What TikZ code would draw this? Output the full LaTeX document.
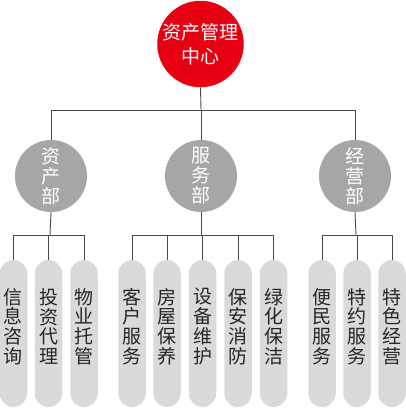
\documentclass[tikz,border=0pt]{standalone}
\usepackage{fontspec}
\setmainfont{Noto Sans CJK SC}
\definecolor{topred}{HTML}{E60012}
\definecolor{midgray}{HTML}{A6A6A6}
\definecolor{pillgray}{HTML}{DADADA}
\definecolor{linegray}{HTML}{4A4A4A}
\definecolor{txtdark}{HTML}{262626}
\begin{document}
\begin{tikzpicture}[x=1pt,y=-1pt,
  topnode/.style={circle,fill=topred,minimum size=86pt,inner sep=0pt,text=white,align=center,font=\fontsize{19}{24}\selectfont},
  midnode/.style={circle,fill=midgray,minimum size=72pt,inner sep=0pt,text=white,align=center,font=\fontsize{19}{20}\selectfont},
  pill/.style={rectangle,rounded corners=13.75pt,fill=pillgray,minimum width=27.5pt,minimum height=147pt,inner sep=0pt},
  pilltext/.style={text=txtdark,align=center,font=\fontsize{19}{19.7}\selectfont,inner sep=0pt},
  conn/.style={draw=linegray,line width=0.9pt}
]
\useasboundingbox (0,0) rectangle (406,408);
\node[topnode] (top) at (200.5,44) {资产管理\\中心};
\node[midnode] (m1) at (51,176) {资\\产\\部};
\node[midnode] (m2) at (201,176) {服\\务\\部};
\node[midnode] (m3) at (355,176) {经\\营\\部};
% pills
\foreach \n/\x/\t in {p1/13.5/{信\\息\\咨\\询},p2/48.5/{投\\资\\代\\理},p3/84/{物\\业\\托\\管},
  p4/132/{客\\户\\服\\务},p5/167/{房\\屋\\保\\养},p6/202.5/{设\\备\\维\\护},p7/238/{保\\安\\消\\防},p8/273.5/{绿\\化\\保\\洁},
  p9/322/{便\\民\\服\\务},p10/357/{特\\约\\服\\务},p11/392/{特\\色\\经\\营}}{
  \node[pill] (\n) at (\x,333.5) {};
  \node[pilltext] (\n t) at (\x,326.5) {\t};
}
\coordinate (tb) at (201,110);
\coordinate (b1) at (50,235);
\coordinate (b2) at (201,235);
\coordinate (b3) at (356,235);
\draw[conn] (top.south) -- (tb);
\draw[conn] (m1.north) |- (tb);
\draw[conn] (m3.north) |- (tb);
\draw[conn] (tb) -- (m2.north);
\draw[conn] (m1.south) -- (b1);
\draw[conn] (m2.south) -- (b2);
\draw[conn] (m3.south) -- (b3);
\foreach \p in {p1,p2,p3}{\draw[conn] (\p.north) |- (b1);}
\foreach \p in {p4,p5,p6,p7,p8}{\draw[conn] (\p.north) |- (b2);}
\foreach \p in {p9,p10,p11}{\draw[conn] (\p.north) |- (b3);}
\end{tikzpicture}
\end{document}
